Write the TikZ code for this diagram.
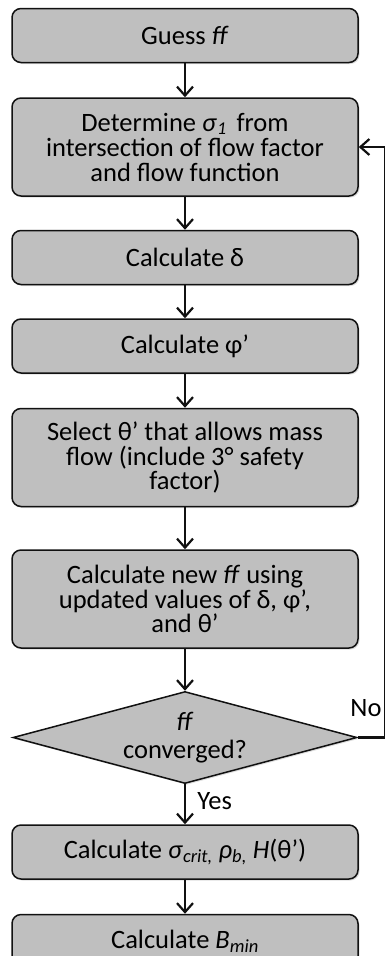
\documentclass[tikz,border=0pt]{standalone}
\usepackage{fontspec}
\setmainfont{Carlito}
\usepackage{tikz}
\usetikzlibrary{arrows.meta,positioning,shapes.geometric,shadows}
\definecolor{boxgray}{HTML}{BFBFBF}
\definecolor{ink}{HTML}{111111}
\tikzset{
  stepbox/.style={rounded corners=9pt,draw=ink,line width=1.5pt,fill=boxgray,
                  minimum width=346pt,minimum height=54pt,inner sep=2pt,align=center,
                  drop shadow={opacity=0.25,shadow xshift=1.5pt,shadow yshift=-1.5pt}},
  tallbox/.style={stepbox,minimum height=98pt},
  decide/.style ={diamond,aspect=3.74,draw=ink,line width=1.5pt,fill=boxgray,
                  minimum width=344pt,minimum height=92pt,inner sep=0pt,align=center,
                  drop shadow={opacity=0.25,shadow xshift=1.5pt,shadow yshift=-1.5pt}},
  flow/.style   ={-{Straight Barb[length=9pt,width=16pt]},line width=2.2pt,draw=ink}
}

\begin{document}
\begin{tikzpicture}[every node/.style={font=\fontsize{26.5}{24.5}\selectfont}]
    \useasboundingbox (0,0) rectangle (385pt,-956pt);
    \node[stepbox] (guess) at (185pt,-35.5pt) {Guess \textit{ff}};
    \node[tallbox,below=34pt of guess] (det)
      {Determine \textit{σ}\raisebox{-3pt}{\fontsize{18}{18}\selectfont\textit{1}}\, from\\[1pt]intersection of flow factor\\and flow function};
    \node[stepbox,below=33pt of det] (delta) {Calculate δ};
    \node[stepbox,below=33pt of delta] (phi) {Calculate φ’};
    \node[tallbox,below=34pt of phi] (theta)
      {Select θ’ that allows mass\\flow (include 3° safety\\factor)};
    \node[tallbox,below=42pt of theta] (newff)
      {Calculate new \textit{ff} using\\updated values of δ, φ’,\\and θ’};
    \node[decide,below=42pt of newff] (conv) {\textit{ff}\\[3pt]converged?};
    \node[stepbox,below=40pt of conv] (crit)
      {Calculate \textit{σ}\textsubscript{\textit{crit,}} \textit{ρ}\textsubscript{\textit{b,}} \textit{H}(θ’)};
    \node[stepbox,below=34pt of crit] (bmin) {Calculate \textit{B}\textsubscript{\textit{min}}};
    \coordinate (back) at (385pt,0);
    \draw[flow] (guess) -- (det);
    \draw[flow] (det) -- (delta);
    \draw[flow] (delta) -- (phi);
    \draw[flow] (phi) -- (theta);
    \draw[flow] (theta) -- (newff);
    \draw[flow] (newff) -- (conv);
    \draw[flow] (conv) -- node[right=8pt,pos=0.42]{Yes} (crit);
    \draw[flow] (crit) -- (bmin);
    \draw[flow] (conv.east) -- node[above=19pt,pos=0.3,inner sep=1pt]{No} (conv.east -| back) |- (det.east);
  \end{tikzpicture}
\end{document}
